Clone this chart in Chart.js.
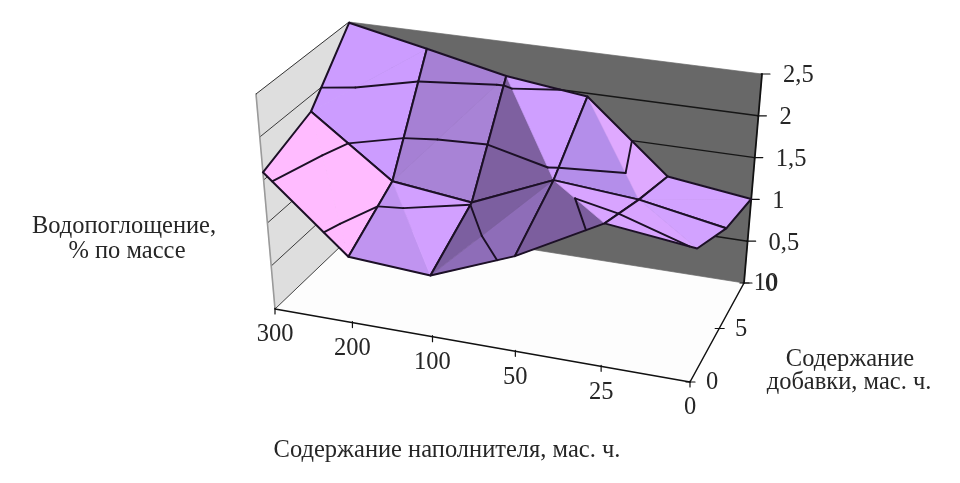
<!DOCTYPE html>
<html lang="ru">
<head>
<meta charset="utf-8">
<style>html,body{margin:0;padding:0;background:#fff}canvas{display:block}</style>
<script src="https://cdn.jsdelivr.net/npm/chart.js@4/dist/chart.umd.min.js"></script>
</head>
<body>
<canvas id="c" width="960" height="483"></canvas>
<script>
// ---- data ----
const fillerCategories = ['300', '200', '100', '50', '25', '0'];
const additiveCategories = ['0', '5', '10'];
const valueTickLabels = ['0', '0,5', '1', '1,5', '2', '2,5'];
const valueTicks = [0, 0.5, 1, 1.5, 2, 2.5];
const absorptionAdditive0 = [1.59, 0.76, 0.70, 1.08, 1.61, 1.49];
const absorptionAdditive5 = [1.82, 1.12, 1.01, 1.42, 1.34, 1.16];
const absorptionAdditive10 = [2.49, 2.29, 2.08, 1.96, 1.13, 1.005];
const contourLevels = [0.5, 1, 1.5, 2];

// ---- facet split and shade of each mesh cell (style only) ----
// [row, column]: diagonal type, shade of the first and second triangle
const cellDiagonals = [
  ['BD', 'BD', 'AC', 'BD', 'BD'],
  ['AC', 'AC', 'BD', 'BD', 'AC']
];
const cellShades = [
  [['#FFBBFF', '#FFBBFF'], ['#C094F0', '#D2A0FF'], ['#8E6DB8', '#7C5FA0'], ['#7C5E9E', '#D8A4FF'], ['#D8A4FF', '#D2A2FF']],
  [['#CC9CFF', '#CC9CFF'], ['#A883D6', '#A680D4'], ['#7E60A0', '#CF9FFF'], ['#B48EEA', '#DFA9FF'], ['#D2A2FF', '#D2A2FF']]
];

// ---- projection of the 3-D box onto the page ----
const box = {
  floor: { fl: [275, 309], fr: [690, 382], bl: [365, 223], br: [744, 283] },
  top:   { fl: [256, 94],  fr: [702, 158], bl: [349, 22],  br: [762, 74] }
};
const zMax = 2.5;
const warp = (t, k) => t / (t + k * (1 - t));
const mix = (a, b, t) => [a[0] + (b[0] - a[0]) * t, a[1] + (b[1] - a[1]) * t];
function project(col, row, z) {
  const u = warp(col / (fillerCategories.length - 1), 1.09);
  const v = warp(row / (additiveCategories.length - 1), 0.85);
  const plane = p => mix(mix(p.fl, p.fr, u), mix(p.bl, p.br, u), v);
  const p = mix(plane(box.floor), plane(box.top), z / zMax);
  return { x: p[0], y: p[1] };
}

const rows = [absorptionAdditive0, absorptionAdditive5, absorptionAdditive10];
const nCol = fillerCategories.length - 1, nRow = additiveCategories.length - 1;
const datasets = [];
function polygon(points, color) {
  datasets.push({ data: [...points, points[0]], showLine: true, borderWidth: 0.7, pointRadius: 0,
    backgroundColor: color, borderColor: color, fill: 'shape' });
}
function polyline(points, color, width) {
  datasets.push({ data: points, showLine: true, borderWidth: width, pointRadius: 0,
    borderColor: color, backgroundColor: color, fill: false, borderJoinStyle: 'round', borderCapStyle: 'round' });
}
const INK = '#1c1026', AX = '#111111';

// walls and floor
polygon([project(0, 0, 0), project(nCol, 0, 0), project(nCol, nRow, 0), project(0, nRow, 0)], '#FDFDFD');
polygon([project(0, 0, 0), project(0, nRow, 0), project(0, nRow, zMax), project(0, 0, zMax)], '#DEDEDE');
polygon([project(0, nRow, 0), project(nCol, nRow, 0), project(nCol, nRow, zMax), project(0, nRow, zMax)], '#686868');
valueTicks.slice(1, -1).forEach(z => {
  polyline([project(0, 0, z), project(0, nRow, z)], '#3a3a3a', 1);
  polyline([project(0, nRow, z), project(nCol, nRow, z)], '#161616', 1.4);
});
polyline([project(0, 0, 0), project(0, 0, zMax)], '#9a9a9a', 1.6);
polyline([project(0, 0, zMax), project(0, nRow, zMax)], '#333333', 1);
polyline([project(0, 0, 0), project(0, nRow, 0)], '#444444', 1);

// axes and ticks
polyline([project(0, 0, 0), project(nCol, 0, 0)], AX, 1.5);
polyline([project(nCol, 0, 0), project(nCol, nRow, 0)], AX, 1.5);
polyline([project(nCol, nRow, 0), project(nCol, nRow, zMax)], AX, 1.8);
fillerCategories.forEach((_, i) => {
  const p = project(i, 0, 0);
  polyline([{ x: p.x, y: p.y - 1 }, { x: p.x, y: p.y + 5 }], AX, 1.2);
});
additiveCategories.forEach((_, j) => {
  const p = project(nCol, j, 0);
  polyline([{ x: p.x - 4, y: p.y }, { x: p.x + 5, y: p.y }], AX, 1.2);
});
valueTicks.forEach(z => {
  const p = project(nCol, nRow, z);
  polyline([{ x: p.x - 1, y: p.y }, { x: p.x + 8, y: p.y }], AX, 1.2);
});

// surface, far cells first
function vertex(col, row) {
  const z = rows[row][col];
  const p = project(col, row, z);
  return { x: p.x, y: p.y, z };
}
function contours(tri) {
  contourLevels.forEach(level => {
    const hits = [];
    for (let e = 0; e < 3; e++) {
      const a = tri[e], b = tri[(e + 1) % 3];
      if ((a.z < level) !== (b.z < level)) {
        const t = (level - a.z) / (b.z - a.z);
        hits.push({ x: a.x + (b.x - a.x) * t, y: a.y + (b.y - a.y) * t });
      }
    }
    if (hits.length === 2) polyline(hits, INK, 1.9);
  });
}
for (let row = nRow - 1; row >= 0; row--) {
  for (let col = 0; col < nCol; col++) {
    const A = vertex(col, row), B = vertex(col + 1, row), C = vertex(col + 1, row + 1), D = vertex(col, row + 1);
    const tris = cellDiagonals[row][col] === 'AC' ? [[A, B, C], [A, C, D]] : [[A, B, D], [B, C, D]];
    const shades = cellShades[row][col];
    tris.forEach((t, k) => polygon(t, shades[k]));
    tris.forEach(contours);
    polyline([A, B, C, D, A], INK, 2);
  }
}

// Chart.js paints the first dataset last, so reverse the painter's list
datasets.reverse();

const textFont = '24.5px "Liberation Serif"';
const titles = [
  ['Водопоглощение,', 124, 227],
  ['% по массе', 127, 252],
  ['Содержание', 850, 360],
  ['добавки, мас. ч.', 849, 383],
  ['Содержание наполнителя, мас. ч.', 447, 451]
];
const labelPlugin = {
  id: 'labels',
  afterDatasetsDraw(chart) {
    const { ctx, scales: { x, y } } = chart;
    ctx.save();
    ctx.font = textFont;
    ctx.fillStyle = '#262626';
    ctx.textBaseline = 'middle';
    const put = (text, px, py, align) => {
      ctx.textAlign = align || 'center';
      ctx.fillText(text, x.getPixelForValue(px), y.getPixelForValue(py));
    };
    fillerCategories.forEach((t, i) => { const p = project(i, 0, 0); put(t, p.x, p.y + 26); });
    additiveCategories.forEach((t, j) => { const p = project(nCol, j, 0); put(t, p.x + 22, p.y + 1); });
    valueTickLabels.forEach((t, k) => { const p = project(nCol, nRow, valueTicks[k]); put(t, p.x + 21, p.y + 2, 'left'); });
    titles.forEach(t => put(t[0], t[1], t[2]));
    ctx.restore();
  }
};

new Chart(document.getElementById('c'), {
  type: 'scatter',
  data: { datasets },
  plugins: [labelPlugin],
  options: {
    responsive: false,
    animation: false,
    layout: { padding: 0 },
    plugins: { legend: { display: false }, tooltip: { enabled: false }, title: { display: false } },
    scales: {
      x: { type: 'linear', display: false, min: 0, max: 960 },
      y: { type: 'linear', display: false, min: 0, max: 483, reverse: true }
    }
  }
});
</script>
</body>
</html>
